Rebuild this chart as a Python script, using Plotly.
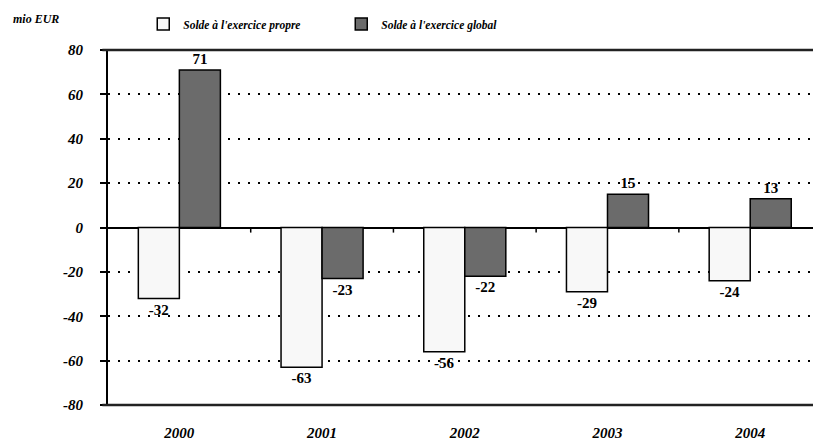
import plotly.graph_objects as go

years = ["2000", "2001", "2002", "2003", "2004"]
solde_propre = [-32, -63, -56, -29, -24]
solde_global = [71, -23, -22, 15, 13]
y_ticks = [80, 60, 40, 20, 0, -20, -40, -60, -80]

serif = "Liberation Serif, Times New Roman, serif"

fig = go.Figure()
fig.add_trace(go.Bar(
    x=years, y=solde_propre, name="<b><i>Solde à l'exercice propre</i></b>",
    marker=dict(color="#F8F8F8", line=dict(color="black", width=1.5)),
    text=[str(v) for v in solde_propre], textposition="outside",
    textfont=dict(family=serif, size=15, color="black"),
    texttemplate="<b>%{text}</b>", cliponaxis=False,
))
fig.add_trace(go.Bar(
    x=years, y=solde_global, name="<b><i>Solde à l'exercice global</i></b>",
    marker=dict(color="#6B6B6B", line=dict(color="black", width=1.5)),
    text=[str(v) for v in solde_global], textposition="outside",
    textfont=dict(family=serif, size=15, color="black"),
    texttemplate="<b>%{text}</b>", cliponaxis=False,
))

# short ticks on the zero line between categories
for i in range(len(years) - 1):
    fig.add_shape(type="line", xref="x", yref="y", x0=i + 0.5, x1=i + 0.5,
                  y0=0, y1=-2.3, line=dict(color="black", width=1.5))

# frame lines at top and bottom of the plot
for yp in (0, 1):
    fig.add_shape(type="line", xref="paper", yref="paper", x0=-0.008, x1=1,
                  y0=yp, y1=yp, line=dict(color="#222", width=2.5), layer="above")

fig.add_annotation(text="<b><i>mio EUR</i></b>", xref="paper", yref="paper",
                   x=-0.138, y=1.087, xanchor="left", yanchor="middle",
                   showarrow=False, font=dict(family=serif, size=12, color="black"))

fig.update_layout(
    width=813, height=447,
    margin=dict(l=108, r=0, t=50, b=42, autoexpand=False),
    plot_bgcolor="white", paper_bgcolor="white",
    barmode="group", bargap=0.425, bargroupgap=0,
    font=dict(family=serif, size=14, color="black"),
    legend=dict(orientation="h", x=0.05, y=1.073, xanchor="left", yanchor="middle",
                bgcolor="rgba(0,0,0,0)",
                font=dict(family=serif, size=11.5, color="black"),
                entrywidth=153, entrywidthmode="pixels", itemclick=False),
    xaxis=dict(type="category", range=[-0.5, 4.44], showgrid=False,
               showline=False, ticks="", tickfont=dict(family=serif, size=15),
               ticklabelstandoff=17,
               tickvals=years, ticktext=["<b><i>%s</i></b>" % y for y in years]),
    yaxis=dict(range=[-80, 80], tickvals=y_ticks,
               ticktext=["<b><i>%d</i></b>" % v for v in y_ticks],
               showline=True, linecolor="black", linewidth=2,
               ticks="outside", ticklen=6, tickwidth=2, tickcolor="black",
               ticklabelstandoff=14,
               showgrid=True, gridcolor="black", gridwidth=1.5, griddash="2px,8px",
               zeroline=True, zerolinecolor="black", zerolinewidth=1.5,
               tickfont=dict(family=serif, size=15)),
)

fig.write_html("out.html", config={"displayModeBar": False},
               post_script="document.body.style.margin='0';")
